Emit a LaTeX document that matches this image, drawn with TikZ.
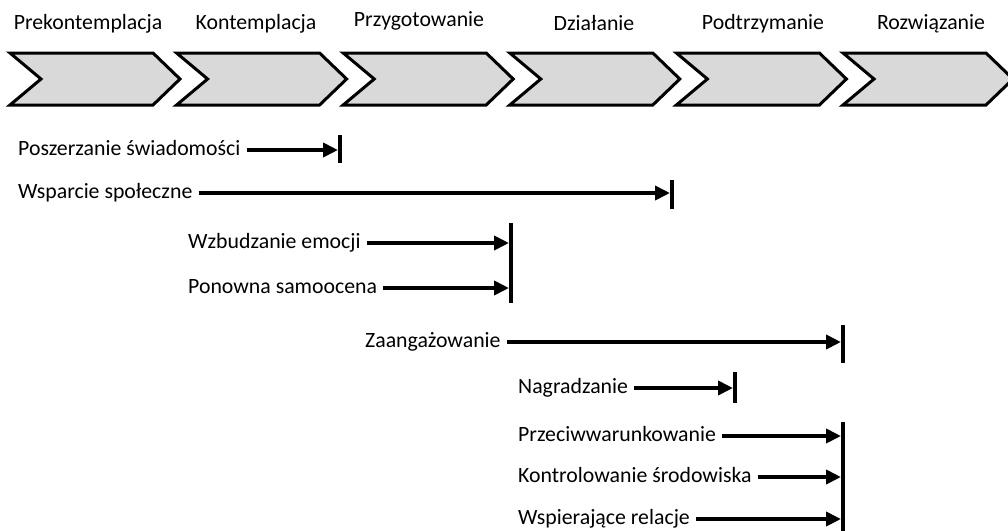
\documentclass[tikz,border=0pt]{standalone}
\usepackage{fontspec}
\setmainfont{Carlito}
\usetikzlibrary{arrows.meta,positioning}

\begin{document}
\begin{tikzpicture}[x=1pt,y=-1pt,
  phase/.style={draw,line width=3pt,fill=black!15,miter limit=10},
  stage/.style={font=\fontsize{21.8}{26}\selectfont,anchor=base},
  proc/.style={font=\fontsize{21.8}{26}\selectfont,anchor=west,inner sep=0pt,text height=14pt,text depth=4pt},
  flow/.style={-{Triangle[length=15pt,width=14pt]},line width=4pt,shorten <=6pt},
  bar/.style={line width=3.5pt}]
  \useasboundingbox (0,0) rectangle (1008,530);

  \foreach \i in {0,...,5}
    \draw[phase] ({10+166.6*\i},53) -- ++(143,0) -- ++(27,26) -- ++(-27,26)
      -- ++(-143,0) -- ++(31,-26) -- cycle;

  \node[stage] (prek) at (88,29)  {Prekontemplacja};
  \node[stage] (kont) at (256,29) {Kontemplacja};
  \node[stage] (przy) at (419,27) {Przygotowanie};
  \node[stage] (dzia) at (594,30) {Działanie};
  \node[stage] (podt) at (763,29) {Podtrzymanie};
  \node[stage] (rozw) at (931,29) {Rozwiązanie};

  \node[proc] (posz) at (18,150)  {Poszerzanie świadomości};
  \node[proc] (wspo) at (18,193)  {Wsparcie społeczne};
  \node[proc] (wzbu) at (188,243) {Wzbudzanie emocji};
  \node[proc] (pono) at (188,288) {Ponowna samoocena};
  \node[proc] (zaan) at (365,342) {Zaangażowanie};
  \node[proc] (nagr) at (518,388) {Nagradzanie};
  \node[proc] (prze) at (518,436) {Przeciwwarunkowanie};
  \node[proc] (kontr) at (518,477) {Kontrolowanie środowiska};
  \node[proc] (wspr) at (518,519) {Wspierające relacje};

  \coordinate (e1) at (338,150);
  \coordinate (e2) at (670,193);
  \coordinate (e3) at (509,243);
  \coordinate (e4) at (509,288);
  \coordinate (e5) at (841,342);
  \coordinate (e6) at (733,388);
  \coordinate (e7) at (841,436);
  \coordinate (e8) at (841,477);
  \coordinate (e9) at (841,519);

  \draw[bar] (340,135) -- (340,163);
  \draw[bar] (672,180) -- (672,209);
  \draw[bar] (511,223) -- (511,303);
  \draw[bar] (843,325) -- (843,363);
  \draw[bar] (735,372) -- (735,403);
  \draw[bar] (843,422) -- (843,532);

  \draw[flow] (posz.east) -- (e1);
  \draw[flow] (wspo.east) -- (e2);
  \draw[flow] (wzbu.east) -- (e3);
  \draw[flow] (pono.east) -- (e4);
  \draw[flow] (zaan.east) -- (e5);
  \draw[flow] (nagr.east) -- (e6);
  \draw[flow] (prze.east) -- (e7);
  \draw[flow] (kontr.east) -- (e8);
  \draw[flow] (wspr.east) -- (e9);
\end{tikzpicture}
\end{document}
